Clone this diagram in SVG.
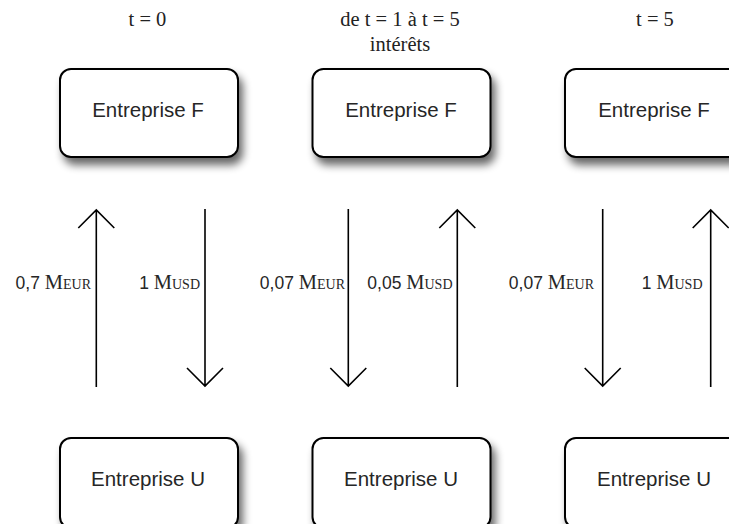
<svg xmlns="http://www.w3.org/2000/svg" width="729" height="524" viewBox="0 0 729 524">
<defs>
<filter id="sh" x="-20%" y="-20%" width="150%" height="160%">
<feGaussianBlur in="SourceAlpha" stdDeviation="4.5"/>
<feOffset dx="4" dy="7" result="b"/>
<feComponentTransfer><feFuncA type="linear" slope="0.6"/></feComponentTransfer>
<feMerge><feMergeNode/><feMergeNode in="SourceGraphic"/></feMerge>
</filter>
</defs>
<style>
.box{fill:#fff;stroke:#000;stroke-width:2}
.bt{font-family:"Liberation Sans",Arial,sans-serif;font-size:20.5px;fill:#262626;text-anchor:middle}
.hd{font-family:"Liberation Serif","Times New Roman",serif;font-size:20.5px;fill:#222;text-anchor:middle}
.ar{fill:none;stroke:#000;stroke-width:1.6}
.lb{font-family:"Liberation Sans",Arial,sans-serif;font-size:17.5px;fill:#262626;text-anchor:end}
.sr{font-family:"Liberation Serif","Times New Roman",serif;font-size:20.5px}
.sc{font-family:"Liberation Serif","Times New Roman",serif;font-size:14px}
</style>
<rect width="729" height="524" fill="#fff"/>
<g id="headers">
<text class="hd" x="147.5" y="26">t = 0</text>
<text class="hd" x="400" y="26">de t = 1 à t = 5</text>
<text class="hd" x="400" y="51">intérêts</text>
<text class="hd" x="655" y="26">t = 5</text>
</g>
<g id="F1"><rect class="box" x="60" y="69" width="178" height="88" rx="11" filter="url(#sh)"/><text class="bt" x="148" y="117">Entreprise F</text></g>
<g id="F2"><rect class="box" x="312.5" y="69" width="178" height="88" rx="11" filter="url(#sh)"/><text class="bt" x="401" y="117">Entreprise F</text></g>
<g id="F3"><rect class="box" x="565" y="69" width="178" height="88" rx="11" filter="url(#sh)"/><text class="bt" x="654" y="117">Entreprise F</text></g>
<g id="U1"><rect class="box" x="60" y="438" width="178" height="90" rx="11" filter="url(#sh)"/><text class="bt" x="148" y="486">Entreprise U</text></g>
<g id="U2"><rect class="box" x="312.5" y="438" width="178" height="90" rx="11" filter="url(#sh)"/><text class="bt" x="401" y="486">Entreprise U</text></g>
<g id="U3"><rect class="box" x="565" y="438" width="178" height="90" rx="11" filter="url(#sh)"/><text class="bt" x="654" y="486">Entreprise U</text></g>
<g id="connectors">
<path class="ar" d="M96.3 387V209.5M78.3 228L96.3 210L114.3 228"/>
<path class="ar" d="M205 209V385.5M187 368L205 386L223 368"/>
<path class="ar" d="M348.3 209V385.5M330.3 368L348.3 386L366.3 368"/>
<path class="ar" d="M457.3 387V209.5M439.3 228L457.3 210L475.3 228"/>
<path class="ar" d="M602.7 209V385.5M584.7 368L602.7 386L620.7 368"/>
<path class="ar" d="M710.7 387V209.5M692.7 228L710.7 210L728.7 228"/>
</g>
<g id="labels">
<text class="lb" x="91" y="289">0,7 <tspan class="sr">M</tspan><tspan class="sc">EUR</tspan></text>
<text class="lb" x="200" y="289">1 <tspan class="sr">M</tspan><tspan class="sc">USD</tspan></text>
<text class="lb" x="345" y="289">0,07 <tspan class="sr">M</tspan><tspan class="sc">EUR</tspan></text>
<text class="lb" x="452.5" y="289">0,05 <tspan class="sr">M</tspan><tspan class="sc">USD</tspan></text>
<text class="lb" x="594" y="289">0,07 <tspan class="sr">M</tspan><tspan class="sc">EUR</tspan></text>
<text class="lb" x="702.5" y="289">1 <tspan class="sr">M</tspan><tspan class="sc">USD</tspan></text>
</g>
</svg>
